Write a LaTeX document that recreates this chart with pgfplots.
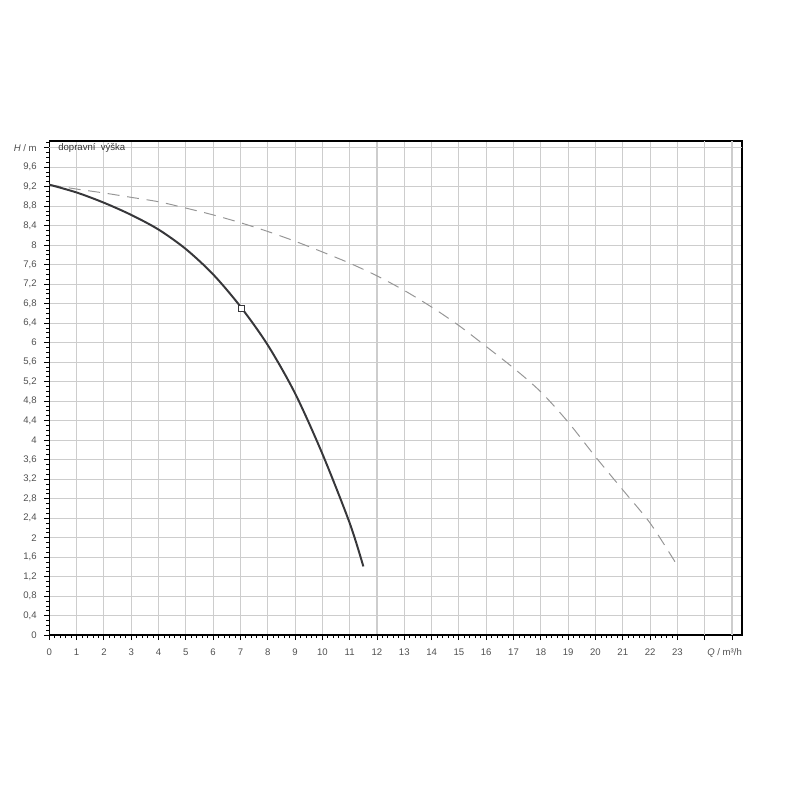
\documentclass[border=0pt]{standalone}
\usepackage{pgfplots}
\pgfplotsset{compat=1.18}
\usepackage{fontspec}
\setmainfont{Liberation Sans}
\definecolor{gridcol}{RGB}{205,205,205}
\definecolor{curvecol}{RGB}{55,55,58}
\definecolor{dashcol}{RGB}{150,150,150}
\definecolor{labcol}{RGB}{80,80,80}

\begin{document}
\begin{tikzpicture}
\begin{axis}[
  scale only axis,
  width=17.32cm, height=12.36cm,
  xmin=0, xmax=25.37, ymin=0, ymax=10.14,
  xtick={0,...,23},
  extra x ticks={24,25}, extra x tick labels={},
  ytick={0,0.4,0.8,1.2,1.6,2,2.4,2.8,3.2,3.6,4,4.4,4.8,5.2,5.6,6,6.4,6.8,7.2,7.6,8,8.4,8.8,9.2,9.6},
  extra y ticks={10}, extra y tick labels={\textit{H} / m},
  extra tick style={grid=major},
  minor x tick num=4,
  minor ytick={0.1,0.2,...,10.15},
  grid=major,
  major grid style={gridcol, line width=0.8pt},
  axis line style={black, line width=1pt},
  tick align=outside,
  major tick length=3.5pt, minor tick length=2pt,
  tick style={black, line width=0.6pt},
  axis x line*=box, axis y line*=box,
  xtick pos=bottom, ytick pos=left,
  /pgf/number format/.cd, use comma, assume math mode=true,
  /pgfplots/.cd,
  tick label style={font=\fontsize{6.8}{7}\selectfont, text=labcol},
  xticklabel style={yshift=-3pt},
  yticklabel style={xshift=-2pt},
  clip=false,
]
  \addplot[dashcol, line width=0.7pt, dash pattern=on 8.5pt off 5.5pt, smooth] coordinates {
    (0,9.24)(1,9.15)(2,9.07)(3,8.98)(4,8.89)(5,8.76)(6,8.62)(7,8.46)(8,8.28)
    (9,8.08)(10,7.86)(11,7.63)(12,7.37)(13,7.07)(14,6.73)(15,6.35)(16,5.92)
    (17,5.48)(18,4.99)(19,4.37)(20,3.66)(21,2.98)(22,2.30)(22.93,1.49)};
  \addplot[curvecol, line width=1.4pt, smooth] coordinates {
    (0,9.24)(1,9.08)(2,8.87)(3,8.62)(4,8.32)(5,7.92)(6,7.40)(7,6.74)
    (8,5.95)(9,4.96)(10,3.72)(11,2.30)(11.5,1.41)};
  \addplot[only marks, mark=square*, mark size=2.4pt,
    mark options={fill=white, draw=curvecol, line width=0.8pt}] coordinates {(7.04,6.70)};
  \node[anchor=west, font=\fontsize{6.8}{7}\selectfont, text=black!80] at (axis cs:0.15,10) {dopravní\ \ výška};
  \node[anchor=north east, font=\fontsize{6.8}{7}\selectfont, text=labcol, inner sep=0pt]
    at ([yshift=-9pt]rel axis cs:1,0) {\textit{Q} / m³/h};
\end{axis}
\path[use as bounding box] ([shift={(-1.2325cm,-4.12cm)}]current axis.south west) rectangle ++(20cm,20cm);
\end{tikzpicture}
\end{document}
